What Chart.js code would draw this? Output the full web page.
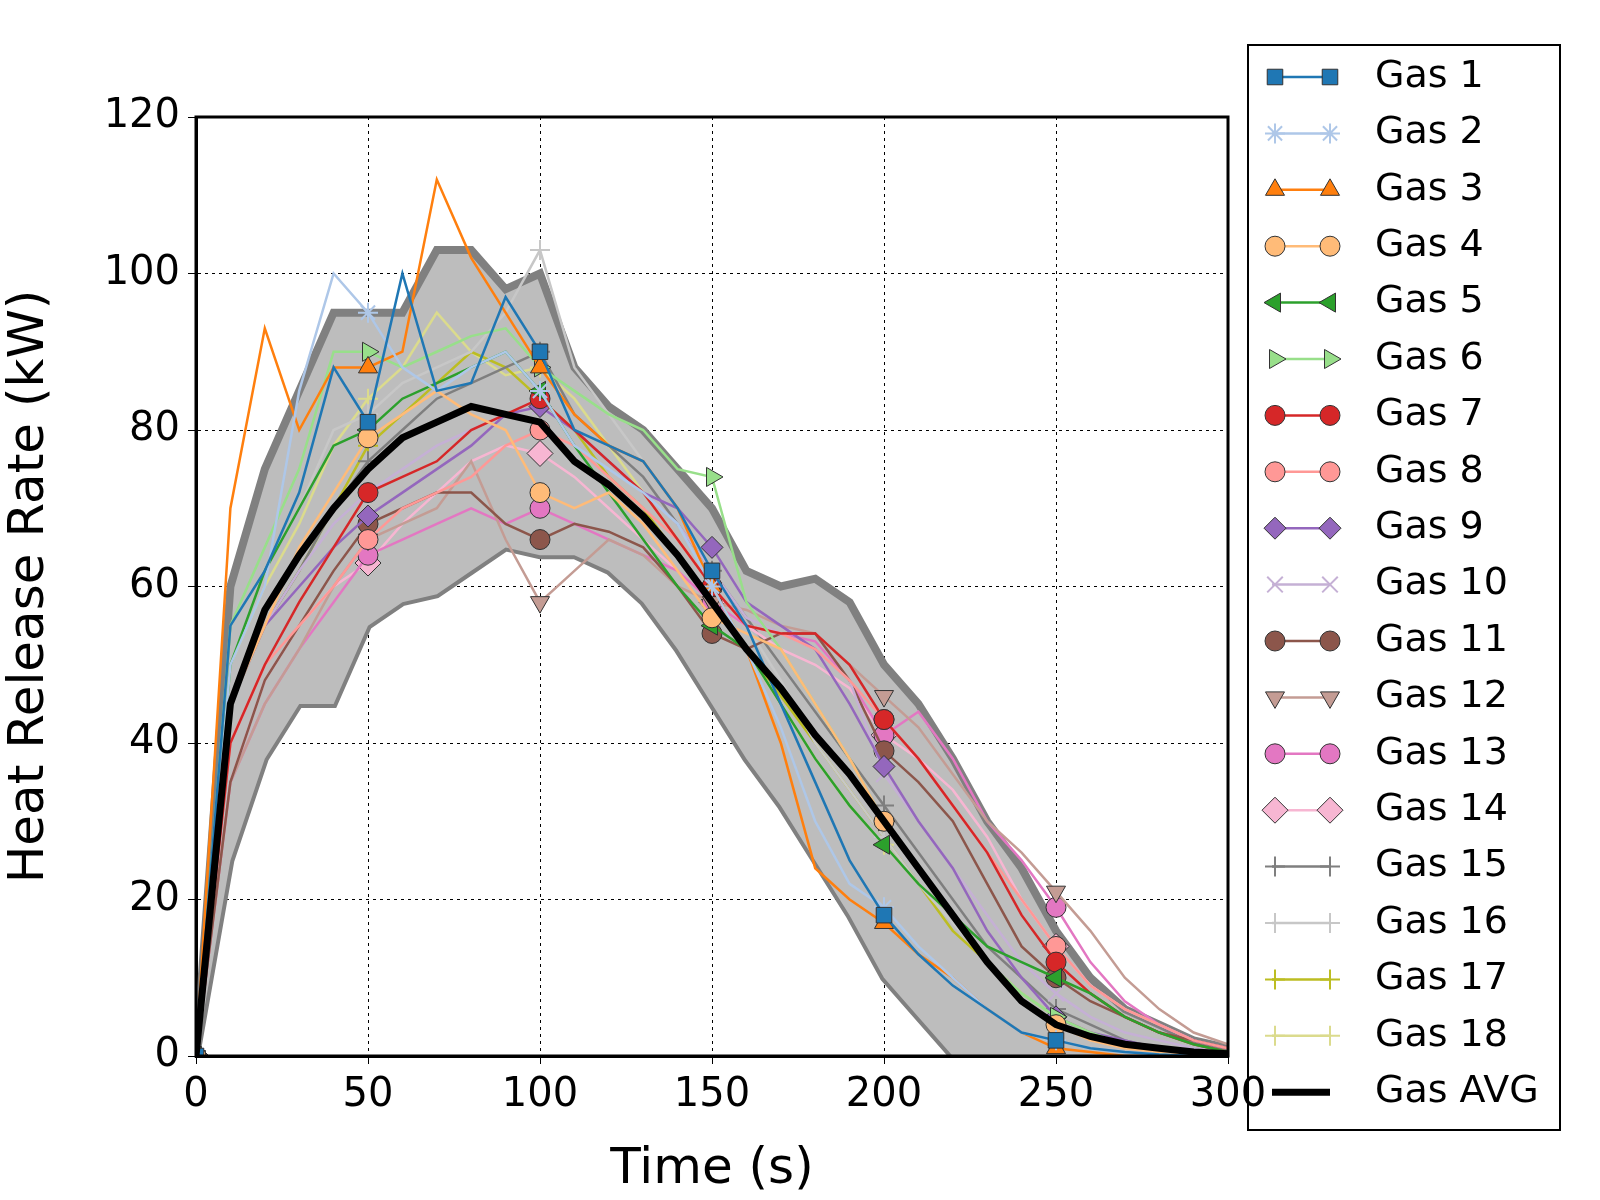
<!DOCTYPE html>
<html><head><meta charset="utf-8">
<script src="https://cdn.jsdelivr.net/npm/chart.js@4"></script>
<style>html,body{margin:0;background:#fff;overflow:hidden}#wrap{width:1600px;height:1200px}canvas{display:block}</style>
</head><body><div id="wrap"><canvas id="c"></canvas></div>
<script>
const time = [0,10,20,30,40,50,60,70,80,90,100,110,120,130,140,150,160,170,180,190,200,210,220,230,240,250,260,270,280,290,300];
const gasNames = ['Gas 1','Gas 2','Gas 3','Gas 4','Gas 5','Gas 6','Gas 7','Gas 8','Gas 9','Gas 10','Gas 11','Gas 12','Gas 13','Gas 14','Gas 15','Gas 16','Gas 17','Gas 18'];
const gas1 = [0,55,62,72,88,81,100,85,86,97,90,80,78,76,70,62,55,45,35,25,18,13,9,6,3,2,1,0.5,0.2,0,0];
const gas2 = [0,50,60,85,100,95,88,85,88,90,85,78,75,72,68,60,52,42,30,22,19,14,10,6,3,2,1,0.5,0.2,0,0];
const gas3 = [0,70,93,80,88,88,90,112,102,95,88,82,78,76,70,60,52,40,24,20,17,13,10,6,3,1,0.5,0,0,0,0];
const gas4 = [0,45,55,65,72,79,82,85,82,80,72,70,72,68,62,56,54,52,45,38,30,24,18,12,7,4,2,1,0.5,0.2,0];
const gas5 = [0,50,62,70,78,80,84,86,88,90,85,78,72,66,60,55,52,45,38,32,27,22,18,14,12,10,8,5,3,1.5,0.5];
const gas6 = [0,55,65,75,90,90,88,90,92,93,88,85,82,80,75,74,58,52,45,38,30,24,18,12,8,5,3,1.5,0.5,0.2,0];
const gas7 = [0,40,50,58,65,72,74,76,80,82,84,80,76,72,66,60,55,54,54,50,43,38,32,26,18,12,8,5,3,1.5,0.5];
const gas8 = [0,40,50,55,60,66,70,72,74,78,80,78,74,70,66,60,55,54,52,48,43,38,32,26,20,14,9,6,4,2,1];
const gas9 = [0,45,55,60,65,69,72,75,78,82,83,80,76,72,70,65,58,55,52,45,37,30,24,16,10,5,3,2,1,0.5,0.2];
const gas10 = [0,45,55,62,68,72,75,78,80,82,83,80,76,72,68,62,56,54,52,48,36,30,24,18,12,8,5,3,2,1,0.5];
const gas11 = [0,35,48,55,62,68,70,72,72,68,66,68,67,65,60,54,52,54,54,48,39,35,30,22,14,10,7,5,3,2,1];
const gas12 = [0,35,45,52,60,66,68,70,76,66,58,62,66,64,60,58,57,55,54,50,46,42,36,30,26,21,16,10,6,3,1.5];
const gas13 = [0,35,45,52,58,64,66,68,70,68,70,68,66,64,62,58,55,54,53,48,41,44,38,30,25,19,12,7,4,2,1];
const gas14 = [0,35,48,55,60,63,68,72,76,78,77,74,70,66,62,58,55,52,50,47,41,38,34,28,20,14,9,6,4,2,1];
const gas15 = [0,45,55,62,70,76,80,84,86,88,90,82,78,74,68,62,56,50,44,38,32,26,20,14,10,6,4,2,1,0.5,0];
const gas16 = [0,50,62,70,80,82,86,88,90,95,103,88,82,76,70,62,55,48,40,34,28,22,17,12,8,5,3,2,1,0.5,0];
const gas17 = [0,45,55,62,70,78,82,86,90,88,84,80,74,70,64,58,52,46,40,34,28,22,16,12,8,5,3,1.5,0.5,0,0];
const gas18 = [0,50,60,68,78,84,88,95,90,87,88,84,78,72,66,60,52,45,38,32,27,22,18,12,8,5,3,1.5,0.5,0,0];
const gasAvg = [0,45,57,64,70,75,79,81,83,82,81,76,73,69,64,58,52,47,41,36,30,24,18,12,7,4,2.5,1.5,1,0.5,0.3];
const bandUpper = [0,60,75,85,95,95,95,103,103,98,100,88,83,80,75,70,62,60,61,58,50,45,38,30,24,16,10,6,4,2,1];
const bandLower = [0,25,38,45,45,55,58,59,62,65,64,64,62,58,52,45,38,32,25,18,10,5,0,0,0,0,0,0,0,0,0];

const gasData = [gas1,gas2,gas3,gas4,gas5,gas6,gas7,gas8,gas9,gas10,gas11,gas12,gas13,gas14,gas15,gas16,gas17,gas18];
const colors = ['#1f77b4','#aec7e8','#ff7f0e','#ffbb78','#2ca02c','#98df8a','#d62728','#ff9896','#9467bd','#c5b0d5','#8c564b','#c49c94','#e377c2','#f7b6d2','#7f7f7f','#c7c7c7','#bcbd22','#dbdb8d'];
const styles = ['rect','star','triangle','circle','triangle','triangle','circle','circle','rectRot','crossRot','circle','triangle','circle','rectRot','cross','cross','cross','cross'];
const rots = [0,0,0,0,-90,90,0,0,0,0,0,180,0,0,0,0,0,0];
const sizes = [11,10,11,10,11,11,10,10,11,11,10,11,10,13,10,10,10,10];
const strokeOwn = i => i === 1 || i === 9 || i >= 14;

const pts = arr => arr.map((v, i) => ({x: time[i], y: v}));
const datasets = [
  {data: pts(bandUpper), borderColor: '#808080', borderWidth: 8, backgroundColor: '#bdbdbd', fill: '+1', pointRadius: 0, order: 100},
  {data: pts(bandLower), borderColor: '#808080', borderWidth: 8, fill: false, pointRadius: 0, order: 100}
];
gasData.forEach((d, i) => {
  datasets.push({
    label: gasNames[i], data: pts(d), borderColor: colors[i], backgroundColor: colors[i],
    borderWidth: 2.5, fill: false, order: 10,
    pointStyle: styles[i], rotation: rots[i],
    pointRadius: c => c.dataIndex % 5 === 0 && c.dataIndex < 30 ? sizes[i] : 0,
    pointBorderColor: strokeOwn(i) ? colors[i] : '#333', pointBorderWidth: strokeOwn(i) ? 2 : 1
  });
});
datasets.push({label: 'Gas AVG', data: pts(gasAvg), borderColor: '#000', borderWidth: 7, fill: false, pointRadius: 0, order: 0});

const legendBox = {
  id: 'legendBox',
  afterDraw(chart) {
    const ctx = chart.ctx;
    const a = chart.chartArea;
    ctx.save();
    ctx.strokeStyle = '#000'; ctx.lineWidth = 3;
    ctx.strokeRect(a.left, a.top, a.right - a.left, a.bottom - a.top);
    ctx.lineWidth = 2;
    ctx.strokeRect(1248, 45, 312, 1085);
    ctx.font = '38px "DejaVu Sans"'; ctx.textBaseline = 'middle'; ctx.fillStyle = '#000';
    const names = gasNames.concat(['Gas AVG']);
    names.forEach((n, i) => {
      const y = 77 + i * 56.4;
      ctx.beginPath(); ctx.moveTo(1272, y); ctx.lineTo(1330, y);
      ctx.strokeStyle = i < 18 ? colors[i] : '#000'; ctx.lineWidth = i < 18 ? 2.5 : 7; ctx.stroke();
      if (i < 18) {
        [1275, 1330].forEach(x => {
          ctx.fillStyle = colors[i];
          ctx.strokeStyle = strokeOwn(i) ? colors[i] : '#333'; ctx.lineWidth = strokeOwn(i) ? 2 : 1;
          Chart.helpers.drawPoint(ctx, {pointStyle: styles[i], rotation: rots[i], radius: sizes[i], borderWidth: 1}, x, y);
        });
      }
      ctx.fillStyle = '#000';
      ctx.fillText(n, 1375, y);
    });
    ctx.restore();
  }
};

new Chart(document.getElementById('c'), {
  type: 'line',
  data: {datasets},
  plugins: [legendBox],
  options: {
    responsive: true, maintainAspectRatio: false, animation: false,
    layout: {padding: {left: 0, top: 117, right: 372, bottom: 0}},
    plugins: {legend: {display: false}, tooltip: {enabled: false}},
    scales: {
      x: {
        type: 'linear', min: 0, max: 300,
        ticks: {stepSize: 50, color: '#000', font: {size: 40, family: 'DejaVu Sans'}, padding: 8},
        grid: {color: '#000', lineWidth: 1, tickLength: 8},
        border: {color: '#000', width: 3, dash: [3, 4]},
        title: {display: true, text: 'Time (s)', color: '#000', font: {size: 50, family: 'DejaVu Sans'}, padding: 0},
        afterFit: s => { s.height = 144; }
      },
      y: {
        min: 0, max: 120,
        ticks: {stepSize: 20, color: '#000', font: {size: 40, family: 'DejaVu Sans'}, padding: 8},
        grid: {color: '#000', lineWidth: 1, tickLength: 8},
        border: {color: '#000', width: 3, dash: [3, 4]},
        title: {display: true, text: 'Heat Release Rate (kW)', color: '#000', font: {size: 50, family: 'DejaVu Sans'}, padding: 0},
        afterFit: s => { s.width = 196; }
      }
    }
  }
});
</script></body></html>
